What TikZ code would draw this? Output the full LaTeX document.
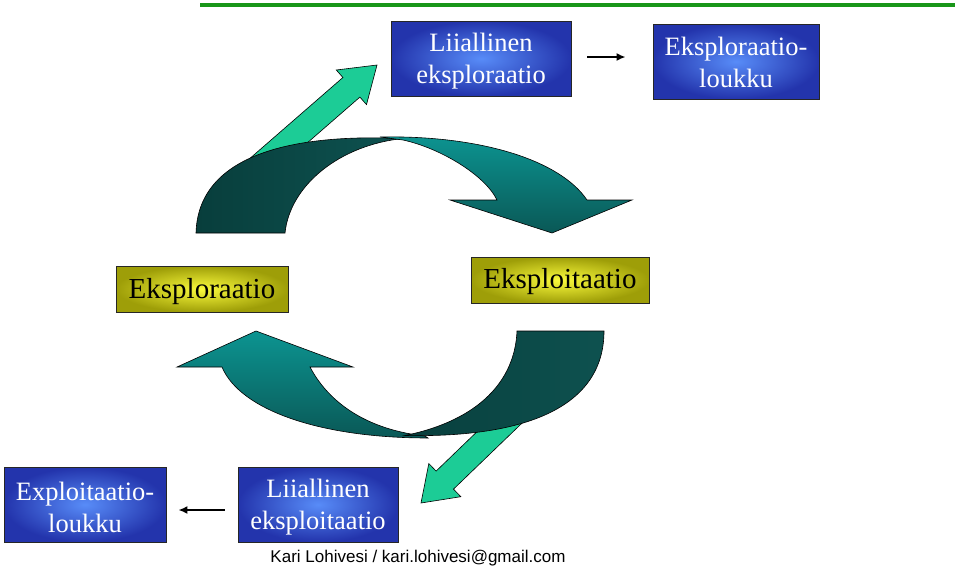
\documentclass[tikz,border=0pt]{standalone}
\usepackage{fontspec}
\setmainfont{Liberation Serif}
\newfontfamily\footfont{Liberation Sans}
\usetikzlibrary{arrows.meta,calc}
\definecolor{blueedge}{RGB}{35,52,172}
\definecolor{bluemid}{RGB}{88,140,248}
\definecolor{yeledge}{RGB}{158,158,8}
\definecolor{yelmid}{RGB}{250,250,60}
\definecolor{tealdarkL}{RGB}{8,62,60}
\definecolor{tealdarkR}{RGB}{14,82,80}
\definecolor{teallight}{RGB}{12,148,145}
\definecolor{tealbot}{RGB}{10,88,86}
\definecolor{greenarrow}{RGB}{28,204,150}
\definecolor{greenline}{RGB}{25,150,25}
\newcommand{\toppad}[1]{\rule{0pt}{#1}}
\tikzset{
  bluebox/.style={rectangle, draw=black!85, line width=0.8pt, inner color=bluemid, outer color=blueedge,
    text=white, align=center, font=\fontsize{26.5}{32}\selectfont, inner sep=0pt},
  yelbox/.style={rectangle, draw=black!85, line width=0.8pt, inner color=yelmid, outer color=yeledge,
    text=black, align=center, font=\fontsize{29}{34}\selectfont, inner sep=0pt},
  smallarr/.style={line width=1.8pt, -{Latex[length=9pt,width=8pt]}},
  grnarrow/.style={fill=greenarrow, draw=black, line width=0.6pt, line join=miter},
  darkband/.style={left color=tealdarkL, right color=tealdarkR, draw=black, line width=0.6pt},
  lightband/.style={top color=teallight, bottom color=tealbot, draw=black, line width=0.6pt},
}
\begin{document}
\begin{tikzpicture}[x=1pt,y=-1pt]
\useasboundingbox (0,0) rectangle (960,568);
% top green rule
\fill[greenline] (200,3) rectangle (955,7);

% green arrows (behind the curved bands)
\path[grnarrow] (377,65) -- (366.5,104.6) -- (359.9,97.1) -- (246.8,195.5) -- (229.8,175.9) -- (342.9,77.5) -- (336.3,70.0) -- cycle;
\path[grnarrow] (421,503) -- (460.8,496.7) -- (453.5,489.1) -- (532.7,412.8) -- (515.3,394.8) -- (436.1,471.1) -- (428.8,463.5) -- cycle;

% upper curved arrow
\path[darkband] (196,233) .. controls (198,160) and (280,133) .. (403,138.5)
   .. controls (340,145) and (290,185) .. (285,233) -- cycle;
\path[lightband] (380,137) .. controls (480,135) and (560,160) .. (587,200) -- (632,200) -- (552,233) -- (450,200) -- (497,200)
   .. controls (485,175) and (440,148) .. (403,140) -- cycle;

% lower curved arrow
\path[lightband] (222,367) -- (177,367) -- (256,331) -- (353,367) -- (310,367)
   .. controls (330,405) and (370,430) .. (425,436) -- (428,438)
   .. controls (320,438) and (240,410) .. (222,367) -- cycle;
\path[darkband] (604,331) .. controls (604,405) and (530,438) .. (405,435.5)
   .. controls (480,420) and (515,380) .. (517,331) -- cycle;

% boxes
\node[bluebox, minimum width=180pt, minimum height=75pt] (lex) at (481,58.5) {\toppad{24pt}Liiallinen\\eksploraatio};
\node[bluebox, minimum width=166pt, minimum height=75pt] (elk) at (736,61.5) {\toppad{21pt}Eksploraatio-\\loukku};
\node[yelbox, minimum width=172pt, minimum height=46pt] (eplor) at (202,289) {\toppad{25pt}Eksploraatio};
\node[yelbox, minimum width=178pt, minimum height=46pt] (eploit) at (560,280) {\toppad{23pt}Eksploitaatio};
\node[bluebox, minimum width=162pt, minimum height=75pt] (xlk) at (85,504.5) {\toppad{24pt}Exploitaatio-\\loukku};
\node[bluebox, minimum width=160pt, minimum height=75pt] (lxp) at (318,504.5) {\toppad{24pt}Liiallinen\\eksploitaatio};

% small connectors
\draw[smallarr] ([xshift=16pt,yshift=1.5pt]lex.east) -- ([xshift=-27pt,yshift=1.5pt]lex.east -| elk.west);
\draw[smallarr] ([xshift=-13pt,yshift=-5.5pt]lxp.west) -- ([xshift=12pt,yshift=-5.5pt]lxp.west -| xlk.east);

% footer
\node[font=\footfont\fontsize{17}{20}\selectfont, inner sep=0pt] (foot) at (418,558) {Kari Lohivesi / kari.lohivesi@gmail.com};
\end{tikzpicture}
\end{document}
